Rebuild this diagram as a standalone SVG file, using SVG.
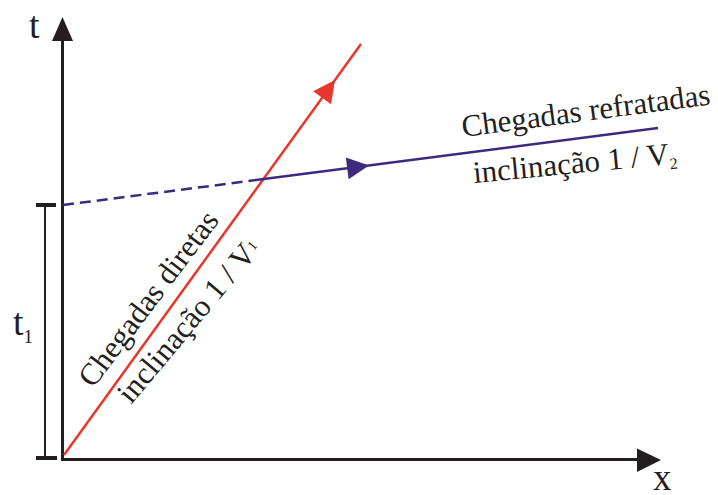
<svg xmlns="http://www.w3.org/2000/svg" width="718" height="495" viewBox="0 0 718 495">
  <style>
    .ax { stroke: #231f20; stroke-width: 3; fill: none; }
    .br { stroke: #231f20; fill: none; }
    .head { fill: #231f20; }
    .red { stroke: #e8362c; stroke-width: 2.5; fill: none; }
    .blue { stroke: #3b2a7e; stroke-width: 2.5; fill: none; }
    .dash { stroke-dasharray: 11 6; }
    .txt { font-family: "Liberation Serif", "Times New Roman", serif; fill: #231f20; }
  </style>
  <rect width="718" height="495" fill="#ffffff"/>

  <g id="axes">
    <line class="ax" x1="62.5" y1="460" x2="62.5" y2="38"/>
    <polygon class="head" points="62.5,17 52,41 73,41"/>
    <line class="ax" x1="61" y1="459.5" x2="640" y2="459.5"/>
    <polygon class="head" points="661,460 637,448.5 637,472"/>
    <text class="txt" x="29" y="38" font-size="38">t</text>
    <text class="txt" x="653" y="490" font-size="37">x</text>
  </g>

  <g id="t1-bracket">
    <line class="br" stroke-width="2" x1="45" y1="205" x2="45" y2="458"/>
    <line class="br" stroke-width="4" x1="36" y1="205" x2="56" y2="205"/>
    <line class="br" stroke-width="4" x1="36" y1="458" x2="57" y2="458"/>
    <text class="txt" x="13" y="335" font-size="38">t<tspan font-size="19" dy="8">1</tspan></text>
  </g>

  <g id="connectors">
    <g id="direct-arrivals">
      <line class="red" x1="64" y1="455" x2="361" y2="44"/>
      <polygon fill="#e8362c" points="335,80 331,104.3 313.2,91.3"/>
    </g>
    <g id="refracted-arrivals">
      <line class="blue dash" x1="63" y1="205" x2="258" y2="179.8"/>
      <line class="blue" x1="258" y1="179.8" x2="658" y2="128"/>
      <polygon fill="#3b2a7e" points="369,165.5 348.6,179.2 345.8,157.4"/>
    </g>
  </g>

  <g id="direct-label">
    <text class="txt" font-size="31" transform="translate(93,389) rotate(-53)">Chegadas diretas</text>
    <text class="txt" font-size="31" transform="translate(131,405) rotate(-50)">inclinação 1 / V<tspan font-size="14" dy="-5">1</tspan></text>
  </g>

  <g id="refracted-label">
    <text class="txt" font-size="31" transform="translate(463,137) rotate(-7.5)">Chegadas refratadas</text>
    <text class="txt" font-size="31" transform="translate(474,183) rotate(-5.5)">inclinação 1 / V<tspan font-size="16" dy="5">2</tspan></text>
  </g>
</svg>
